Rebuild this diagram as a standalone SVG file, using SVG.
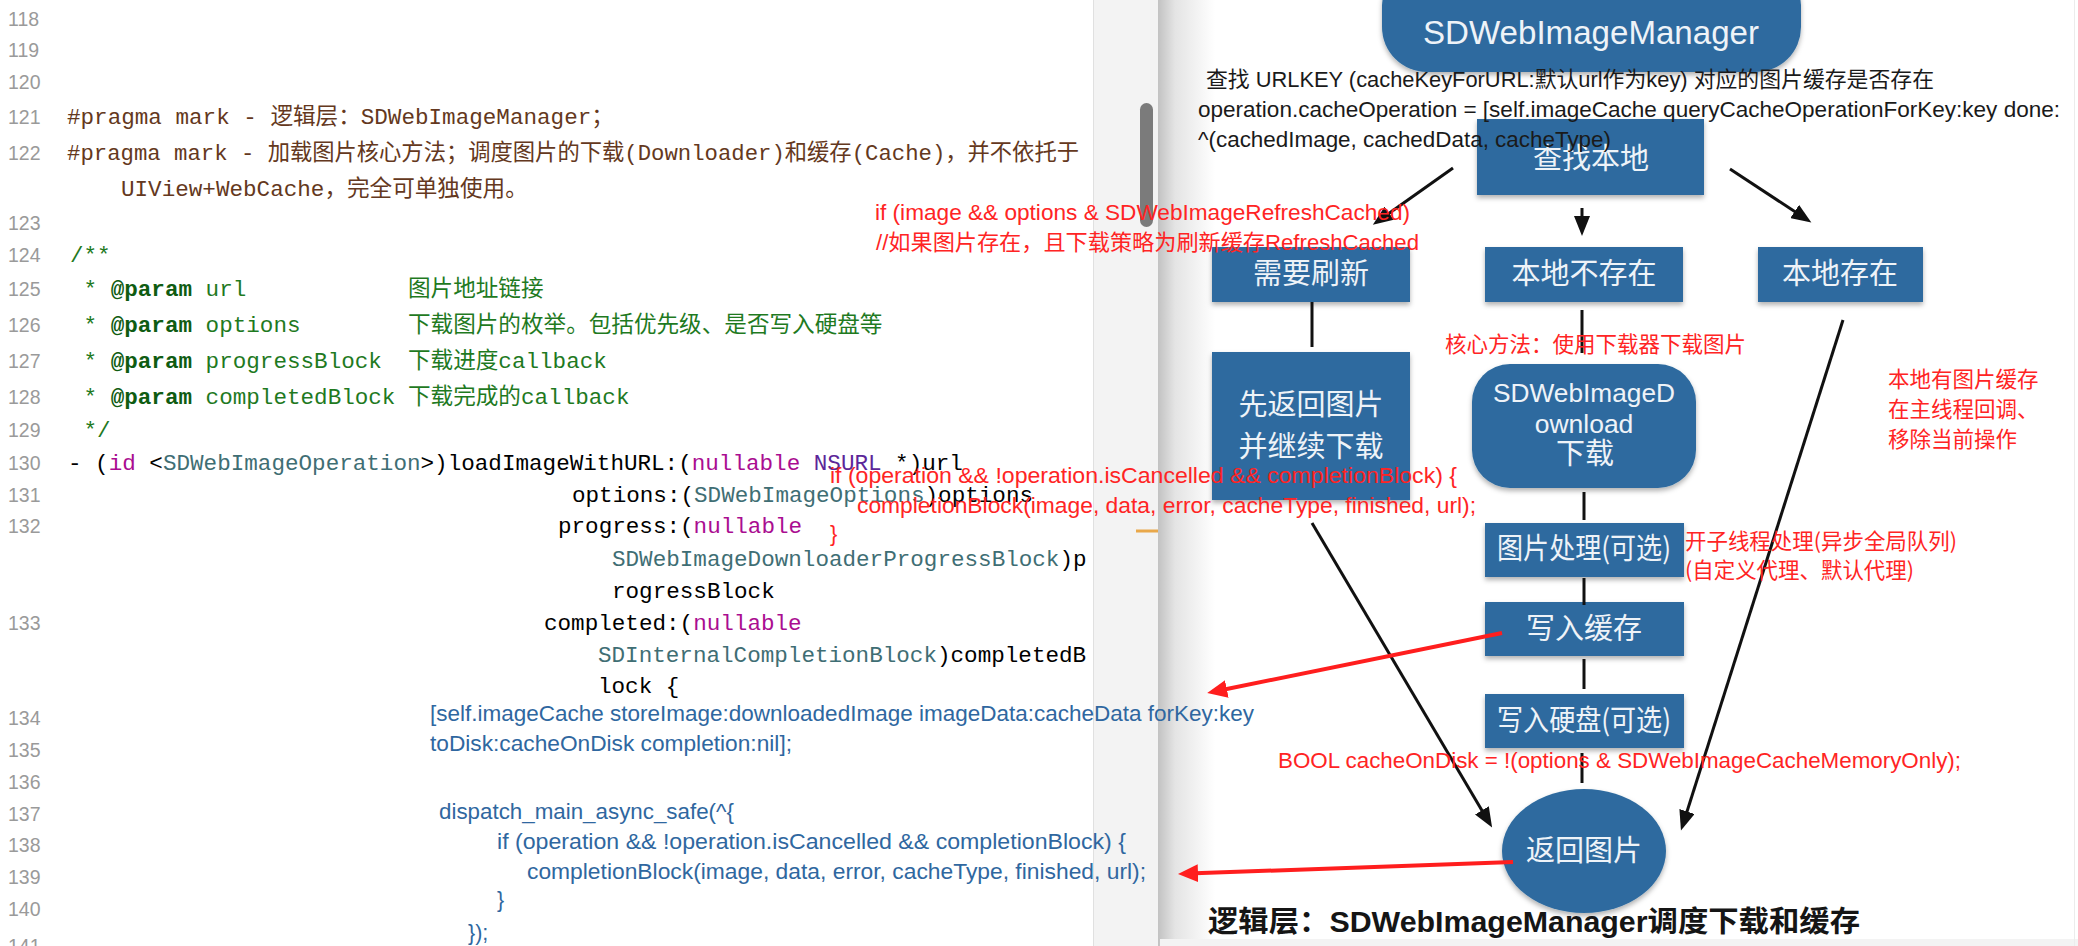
<svg xmlns="http://www.w3.org/2000/svg" width="2078" height="946" viewBox="0 0 2078 946">
<defs>
<style>
.ln{font-family:"Liberation Sans",Arial,sans-serif;font-size:19.5px;fill:#9a9a9a}
.mono{font-family:"Liberation Mono","Noto Sans CJK SC",monospace;font-size:22.6px;fill:#000}
.pp{fill:#643820}
.cm{fill:#1f7a1f}
.pk{fill:#0f5c12;font-weight:bold}
.kw{fill:#aa0d91}
.cls{fill:#3f6e74}
.ns{fill:#5c2699}
.blue{font-family:"Liberation Sans","Noto Sans CJK SC",sans-serif;font-size:21.5px;fill:#2f67a0}
.red{font-family:"Liberation Sans","Noto Sans CJK SC",sans-serif;font-size:22px;fill:#ff2424}
.redc{font-family:"Noto Sans CJK SC",sans-serif;font-size:21.5px;fill:#ff2424}
.blk{font-family:"Liberation Sans","Noto Sans CJK SC",sans-serif;font-size:21.5px;fill:#1a1a1a}
.box{fill:#2e6b9f;filter:url(#sh)}
.bt{font-family:"Noto Sans CJK SC",sans-serif;font-size:29px;fill:#eef3f8;text-anchor:middle}
.bl{font-family:"Liberation Sans","Noto Sans CJK SC",sans-serif;fill:#eef3f8;text-anchor:middle}
.conn{stroke:#111;stroke-width:3;fill:none}
.rconn{stroke:#ff1e1e;stroke-width:4;fill:none}
</style>
<marker id="ah" markerUnits="userSpaceOnUse" markerWidth="22" markerHeight="16" refX="10" refY="8" orient="auto">
<path d="M0,0 L20,8 L0,16 z" fill="#111"/>
</marker>
<marker id="rah" markerUnits="userSpaceOnUse" markerWidth="22" markerHeight="18" refX="10" refY="9" orient="auto">
<path d="M0,0 L20,9 L0,18 z" fill="#ff1e1e"/>
</marker>
<linearGradient id="shade" x1="0" y1="0" x2="1" y2="0">
<stop offset="0" stop-color="#c2c2c2"/>
<stop offset="0.3" stop-color="#e4e4e4"/>
<stop offset="1" stop-color="#ffffff"/>
</linearGradient>
<filter id="sh" x="-10%" y="-10%" width="120%" height="135%">
<feDropShadow dx="0" dy="3" stdDeviation="2.5" flood-color="#000" flood-opacity="0.3"/>
</filter>
</defs>

<rect x="0" y="0" width="2078" height="946" fill="#ffffff"/>
<g id="editor-chrome">
<rect x="1093" y="0" width="65" height="946" fill="#f3f3f3"/>
<line x1="1093.5" y1="0" x2="1093.5" y2="946" stroke="#e0e0e0" stroke-width="1"/>
<rect x="1158" y="0" width="57" height="946" fill="url(#shade)"/>
<rect x="1160" y="939" width="918" height="7" fill="#f3f3f3"/>
<line x1="2074.5" y1="0" x2="2074.5" y2="946" stroke="#ececec" stroke-width="1"/>
</g>

<g id="line-numbers">
<text class="ln" x="8" y="26">118</text>
<text class="ln" x="8" y="57">119</text>
<text class="ln" x="8" y="89">120</text>
<text class="ln" x="8" y="124">121</text>
<text class="ln" x="8" y="160">122</text>
<text class="ln" x="8" y="230">123</text>
<text class="ln" x="8" y="262">124</text>
<text class="ln" x="8" y="296">125</text>
<text class="ln" x="8" y="332">126</text>
<text class="ln" x="8" y="368">127</text>
<text class="ln" x="8" y="404">128</text>
<text class="ln" x="8" y="437">129</text>
<text class="ln" x="8" y="470">130</text>
<text class="ln" x="8" y="502">131</text>
<text class="ln" x="8" y="533">132</text>
<text class="ln" x="8" y="630">133</text>
<text class="ln" x="8" y="725">134</text>
<text class="ln" x="8" y="757">135</text>
<text class="ln" x="8" y="789">136</text>
<text class="ln" x="8" y="821">137</text>
<text class="ln" x="8" y="852">138</text>
<text class="ln" x="8" y="884">139</text>
<text class="ln" x="8" y="916">140</text>
<text class="ln" x="8" y="953">141</text>
</g>

<g id="code">
<text class="mono pp" x="67" y="124">#pragma mark - 逻辑层：SDWebImageManager；</text>
<text class="mono pp" x="67" y="160" textLength="1012" lengthAdjust="spacingAndGlyphs">#pragma mark - 加载图片核心方法；调度图片的下载(Downloader)和缓存(Cache)，并不依托于</text>
<text class="mono pp" x="121" y="196">UIView+WebCache，完全可单独使用。</text>
<text class="mono cm" x="70" y="262">/**</text>
<text class="mono cm" x="70" y="296" xml:space="preserve"> * <tspan class="pk">@param</tspan> url</text>
<text class="mono cm" x="408" y="296">图片地址链接</text>
<text class="mono cm" x="70" y="332" xml:space="preserve"> * <tspan class="pk">@param</tspan> options</text>
<text class="mono cm" x="408" y="332">下载图片的枚举。包括优先级、是否写入硬盘等</text>
<text class="mono cm" x="70" y="368" xml:space="preserve"> * <tspan class="pk">@param</tspan> progressBlock</text>
<text class="mono cm" x="408" y="368">下载进度callback</text>
<text class="mono cm" x="70" y="404" xml:space="preserve"> * <tspan class="pk">@param</tspan> completedBlock</text>
<text class="mono cm" x="408" y="404">下载完成的callback</text>
<text class="mono cm" x="70" y="437" xml:space="preserve"> */</text>
<text class="mono" x="68" y="470" xml:space="preserve">- (<tspan class="kw">id</tspan> &lt;<tspan class="cls">SDWebImageOperation</tspan>&gt;)loadImageWithURL:(<tspan class="kw">nullable</tspan> <tspan class="ns">NSURL</tspan> *)url</text>
<text class="mono" x="572" y="502">options:(<tspan class="cls">SDWebImageOptions</tspan>)options</text>
<text class="mono" x="558" y="533">progress:(<tspan class="kw">nullable</tspan></text>
<text class="mono" x="612" y="566"><tspan class="cls">SDWebImageDownloaderProgressBlock</tspan>)p</text>
<text class="mono" x="612" y="598">rogressBlock</text>
<text class="mono" x="544" y="630">completed:(<tspan class="kw">nullable</tspan></text>
<text class="mono" x="598" y="662"><tspan class="cls">SDInternalCompletionBlock</tspan>)completedB</text>
<text class="mono" x="598" y="693">lock {</text>
<text class="blue" x="430" y="721" textLength="824" lengthAdjust="spacingAndGlyphs">[self.imageCache storeImage:downloadedImage imageData:cacheData forKey:key</text>
<text class="blue" x="430" y="751" textLength="362" lengthAdjust="spacingAndGlyphs">toDisk:cacheOnDisk completion:nil];</text>
<text class="blue" x="439" y="819" textLength="295" lengthAdjust="spacingAndGlyphs">dispatch_main_async_safe(^{</text>
<text class="blue" x="497" y="849" textLength="629" lengthAdjust="spacingAndGlyphs">if (operation &amp;&amp; !operation.isCancelled &amp;&amp; completionBlock) {</text>
<text class="blue" x="527" y="879" textLength="619" lengthAdjust="spacingAndGlyphs">completionBlock(image, data, error, cacheType, finished, url);</text>
<text class="blue" x="497" y="907">}</text>
<text class="blue" x="468" y="940">});</text>
</g>

<g id="editor-marks">
<rect x="1140" y="103" width="13" height="124" rx="6.5" fill="#7b7b7b"/>
<rect x="1136" y="529.5" width="22" height="3" fill="#e9a84a"/>
</g>

<g id="node-manager">
<rect class="box" x="1382" y="-40" width="419" height="112" rx="45"/>
<text class="bl" x="1591" y="44" font-size="33" textLength="336" lengthAdjust="spacingAndGlyphs">SDWebImageManager</text>
</g>
<g id="node-lookup">
<rect class="box" x="1477" y="119" width="227" height="76"/>
<text class="bt" x="1591" y="169">查找本地</text>
</g>
<g id="node-refresh">
<rect class="box" x="1212" y="247" width="198" height="55"/>
<text class="bt" x="1311" y="284">需要刷新</text>
</g>
<g id="node-notexist">
<rect class="box" x="1485" y="247" width="198" height="55"/>
<text class="bt" x="1584" y="284">本地不存在</text>
</g>
<g id="node-exist">
<rect class="box" x="1758" y="247" width="165" height="55"/>
<text class="bt" x="1840" y="284">本地存在</text>
</g>
<g id="node-return-first">
<rect class="box" x="1212" y="352" width="198" height="148"/>
<text class="bt" x="1311" y="415">先返回图片</text>
<text class="bt" x="1311" y="457">并继续下载</text>
</g>
<g id="node-download">
<rect class="box" x="1472" y="364" width="224" height="124" rx="38"/>
<text class="bl" x="1584" y="402" font-size="26.5" textLength="182" lengthAdjust="spacingAndGlyphs">SDWebImageD</text>
<text class="bl" x="1584" y="433" font-size="26.5">ownload</text>
<text class="bt" x="1585" y="464" font-size="27">下载</text>
</g>
<g id="node-process">
<rect class="box" x="1485" y="523" width="199" height="54"/>
<text class="bt" x="1584" y="559" font-size="26.5" textLength="174" lengthAdjust="spacingAndGlyphs">图片处理(可选)</text>
</g>
<g id="node-memcache">
<rect class="box" x="1485" y="602" width="199" height="54"/>
<text class="bt" x="1584" y="639">写入缓存</text>
</g>
<g id="node-disk">
<rect class="box" x="1485" y="694" width="199" height="54"/>
<text class="bt" x="1584" y="731" font-size="26.5" textLength="174" lengthAdjust="spacingAndGlyphs">写入硬盘(可选)</text>
</g>
<g id="node-return">
<ellipse class="box" cx="1584" cy="851" rx="82" ry="62"/>
<text class="bt" x="1584" y="861" font-size="31">返回图片</text>
</g>

<g id="connectors">
<line class="conn" x1="1453" y1="168" x2="1381" y2="219" marker-end="url(#ah)"/>
<line class="conn" x1="1582" y1="208" x2="1582" y2="226" marker-end="url(#ah)"/>
<line class="conn" x1="1730" y1="169" x2="1803" y2="217" marker-end="url(#ah)"/>
<line class="conn" x1="1312" y1="302" x2="1312" y2="347"/>
<line class="conn" x1="1582" y1="310" x2="1582" y2="353"/>
<line class="conn" x1="1584" y1="492" x2="1584" y2="520"/>
<line class="conn" x1="1584" y1="578" x2="1584" y2="605"/>
<line class="conn" x1="1584" y1="659" x2="1584" y2="689"/>
<line class="conn" x1="1582" y1="753" x2="1582" y2="783"/>
<line class="conn" x1="1312" y1="523" x2="1487" y2="819" marker-end="url(#ah)"/>
<line class="conn" x1="1843" y1="320" x2="1684" y2="821" marker-end="url(#ah)"/>
<line class="rconn" x1="1502" y1="633" x2="1217" y2="691" marker-end="url(#rah)"/>
<line class="rconn" x1="1513" y1="862" x2="1188" y2="873.6" marker-end="url(#rah)"/>
</g>

<g id="annotations">
<text class="blk" x="1206" y="87" textLength="728" lengthAdjust="spacingAndGlyphs">查找 URLKEY (cacheKeyForURL:默认url作为key) 对应的图片缓存是否存在</text>
<text class="blk" x="1198" y="117" textLength="862" lengthAdjust="spacingAndGlyphs">operation.cacheOperation = [self.imageCache queryCacheOperationForKey:key done:</text>
<text class="blk" x="1198" y="147" textLength="413" lengthAdjust="spacingAndGlyphs">^(cachedImage, cachedData, cacheType)</text>
<text class="red" x="875" y="220" textLength="535" lengthAdjust="spacingAndGlyphs">if (image &amp;&amp; options &amp; SDWebImageRefreshCached)</text>
<text class="red" x="876" y="250" textLength="543" lengthAdjust="spacingAndGlyphs">//如果图片存在，且下载策略为刷新缓存RefreshCached</text>
<text class="red" x="830" y="483" textLength="627" lengthAdjust="spacingAndGlyphs">if (operation &amp;&amp; !operation.isCancelled &amp;&amp; completionBlock) {</text>
<text class="red" x="857" y="513" textLength="619" lengthAdjust="spacingAndGlyphs">completionBlock(image, data, error, cacheType, finished, url);</text>
<text class="red" x="830" y="541">}</text>
<text class="redc" x="1445" y="352" textLength="301" lengthAdjust="spacingAndGlyphs">核心方法：使用下载器下载图片</text>
<text class="redc" x="1888" y="387">本地有图片缓存</text>
<text class="redc" x="1888" y="417">在主线程回调、</text>
<text class="redc" x="1888" y="447">移除当前操作</text>
<text class="redc" x="1685" y="549" textLength="272" lengthAdjust="spacingAndGlyphs">开子线程处理(异步全局队列)</text>
<text class="redc" x="1685" y="578" textLength="229" lengthAdjust="spacingAndGlyphs">(自定义代理、默认代理)</text>
<text class="red" x="1278" y="768" textLength="683" lengthAdjust="spacingAndGlyphs">BOOL cacheOnDisk = !(options &amp; SDWebImageCacheMemoryOnly);</text>
</g>

<g id="title">
<text x="1208" y="932" font-family="'Liberation Sans','Noto Sans CJK SC',sans-serif" font-weight="bold" font-size="29" fill="#151515" textLength="652" lengthAdjust="spacingAndGlyphs">逻辑层：SDWebImageManager调度下载和缓存</text>
</g>
</svg>
